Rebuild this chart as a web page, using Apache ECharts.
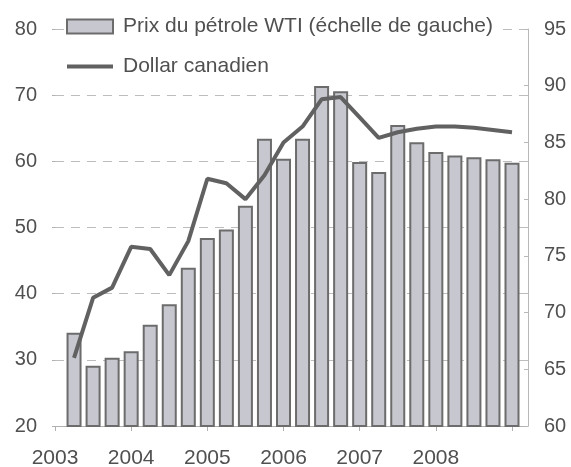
<!DOCTYPE html>
<html>
<head>
<meta charset="utf-8">
<script src="https://cdn.jsdelivr.net/npm/echarts@6/dist/echarts.min.js"></script>
<style>
  html, body { margin: 0; padding: 0; background: #fff; }
  #main { width: 571px; height: 467px; }
</style>
</head>
<body>
<div id="main"></div>
<script>
// quarters as decimal years (bar centres)
var quarters = [2003.25, 2003.5, 2003.75, 2004.0, 2004.25, 2004.5, 2004.75, 2005.0,
                2005.25, 2005.5, 2005.75, 2006.0, 2006.25, 2006.5, 2006.75, 2007.0,
                2007.25, 2007.5, 2007.75, 2008.0, 2008.25, 2008.5, 2008.75, 2009.0];
var years = [2003, 2004, 2005, 2006, 2007, 2008];
// WTI oil price (left scale)
var oil = [34.1, 29.1, 30.3, 31.3, 35.3, 38.4, 43.9, 48.4, 49.7, 53.3, 63.4, 60.4,
           63.4, 71.4, 70.6, 59.9, 58.4, 65.5, 62.9, 61.4, 60.9, 60.6, 60.3, 59.8];
// Canadian dollar (right scale)
var cad = [66.0, 71.3, 72.2, 75.8, 75.6, 73.3, 76.3, 81.8, 81.4, 80.0, 82.1, 85.0,
           86.4, 88.8, 89.0, 87.2, 85.4, 85.9, 86.2, 86.4, 86.4, 86.3, 86.1, 85.9];

var txt = '#505050';
var font = 'Liberation Sans';
var oilName = 'Prix du pétrole WTI (échelle de gauche)';
var cadName = 'Dollar canadien';

function pairs(xs, ys) {
    return xs.map(function (x, i) { return [x, ys[i]]; });
}

option = {
    backgroundColor: '#fff',
    animation: false,
    textStyle: { fontFamily: font },
    grid: { left: 55, right: 43, top: 29, bottom: 41, outerBoundsMode: 'none' },
    legend: {
        orient: 'vertical',
        left: 66,
        top: 16,
        itemWidth: 46,
        itemHeight: 14,
        itemGap: 19,
        backgroundColor: '#fff',
        padding: [0, 6, 0, 0],
        textStyle: { fontSize: 21, color: txt, fontFamily: font, lineHeight: 21, padding: [0, 0, 0, 5] },
        data: [
            { name: oilName, icon: 'rect' },
            { name: cadName, icon: 'path://M0,0 L46,0 L46,4 L0,4 Z',
              itemStyle: { color: '#616161', borderWidth: 0 } }
        ]
    },
    xAxis: {
        type: 'value',
        min: 2003,
        max: 2009.21,
        interval: 1,
        splitLine: { show: false },
        axisLine: { lineStyle: { color: '#b0b0b0', width: 1 } },
        axisTick: { length: 5, lineStyle: { color: '#b0b0b0' } },
        axisLabel: {
            fontSize: 21, color: txt, margin: 22, fontFamily: font,
            showMaxLabel: false,
            formatter: function (v) { return years.indexOf(v) >= 0 ? String(v) : ''; }
        }
    },
    yAxis: [
        {
            type: 'value',
            min: 20, max: 80, interval: 10,
            axisLine: { show: false },
            axisTick: { show: true, length: 3, lineStyle: { color: '#b0b0b0' } },
            axisLabel: { fontSize: 20, color: txt, margin: 18, fontFamily: font },
            splitLine: { show: true, lineStyle: { color: '#bdbdbd', type: [9, 7], width: 1 } }
        },
        {
            type: 'value',
            min: 60, max: 95, interval: 5,
            position: 'right',
            axisLine: { show: true, lineStyle: { color: '#b8b8b8', width: 1 } },
            axisTick: { show: true, inside: true, length: 4, lineStyle: { color: '#b8b8b8' } },
            axisLabel: { fontSize: 20, color: txt, margin: 16, fontFamily: font },
            splitLine: { show: false }
        }
    ],
    series: [
        {
            name: oilName,
            type: 'bar',
            yAxisIndex: 0,
            barWidth: 15,
            itemStyle: { color: '#c7c8cf', borderColor: '#6c6c6c', borderWidth: 2 },
            data: pairs(quarters, oil)
        },
        {
            name: cadName,
            type: 'line',
            yAxisIndex: 1,
            symbol: 'none',
            lineStyle: { color: '#616161', width: 4 },
            itemStyle: { color: '#616161' },
            data: pairs(quarters, cad)
        }
    ]
};

var myChart = echarts.init(document.getElementById('main'));
myChart.setOption(option);
</script>
</body>
</html>
